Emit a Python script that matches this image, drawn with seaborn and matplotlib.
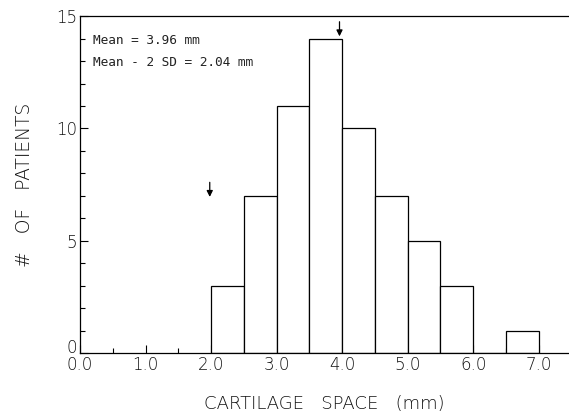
import numpy as np
import matplotlib
matplotlib.use("Agg")
import matplotlib.pyplot as plt
import matplotlib.transforms as mtransforms
import seaborn as sns
from matplotlib.ticker import MultipleLocator

# histogram data (bin width 0.5 mm)
bin_edges = [2.0, 2.5, 3.0, 3.5, 4.0, 4.5, 5.0, 5.5, 6.0, 6.5, 7.0]
bin_left = [2.0, 2.5, 3.0, 3.5, 4.0, 4.5, 5.0, 5.5, 6.0, 6.5]
counts = [3, 7, 11, 14, 10, 7, 5, 3, 0, 1]

mean_val = 3.96
mean_2sd = 2.04
x_ticks = [0, 1, 2, 3, 4, 5, 6, 7]
x_tick_labels = ["0.0", "1.0", "2.0", "3.0", "4.0", "5.0", "6.0", "7.0"]
y_ticks = [0, 5, 10, 15]

sns.set_style("ticks")
plt.rcParams['font.family'] = ['DejaVu Sans']

fig = plt.figure(figsize=(5.69, 4.19), dpi=100)
ax = fig.add_axes([0.1406, 0.1575, 0.858, 0.804])

sns.histplot(x=bin_left, weights=counts, bins=bin_edges, ax=ax,
             color="white", edgecolor="black", linewidth=0.9, alpha=1)

# arrows marking mean and mean - 2 SD
ax.annotate("", xy=(mean_val, 14.1), xytext=(mean_val, 14.75),
            arrowprops=dict(arrowstyle="-|>", color="black", lw=0.9,
                            mutation_scale=9, shrinkA=0, shrinkB=0))
ax.annotate("", xy=(mean_2sd - 0.06, 6.95), xytext=(mean_2sd - 0.06, 7.6),
            arrowprops=dict(arrowstyle="-|>", color="black", lw=0.9,
                            mutation_scale=9, shrinkA=0, shrinkB=0))

ax.text(0.2, 13.9, f"Mean = {mean_val:.2f} mm", fontsize=9.2,
        family="DejaVu Sans Mono", va="center", color="#222222")
ax.text(0.2, 12.95, f"Mean - 2 SD = {mean_2sd:.2f} mm", fontsize=9.2,
        family="DejaVu Sans Mono", va="center", color="#222222")

ax.set_xlim(0, 7.45)
ax.set_ylim(0, 15)
ax.set_xticks(x_ticks)
ax.set_xticklabels(x_tick_labels)
ax.set_yticks(y_ticks)
ax.xaxis.set_minor_locator(MultipleLocator(0.5))
ax.yaxis.set_minor_locator(MultipleLocator(1))
ax.tick_params(which="major", direction="in", length=6, width=0.8,
               labelsize=12, pad=2, colors="black")
ax.tick_params(which="minor", direction="in", length=3.5, width=0.8,
               colors="black")
for lab in ax.get_xticklabels() + ax.get_yticklabels():
    lab.set_color("#111111")
    lab.set_fontweight("light")
# the "0" on the y axis sits a little above its tick
zero_lab = ax.get_yticklabels()[0]
zero_lab.set_transform(zero_lab.get_transform() +
                       mtransforms.ScaledTranslation(0, 7 / 100, fig.dpi_scale_trans))

ax.spines["right"].set_visible(False)
for s in ["left", "bottom", "top"]:
    ax.spines[s].set_linewidth(0.9)
    ax.spines[s].set_color("black")

ax.set_xlabel("CARTILAGE   SPACE   (mm)", fontsize=13, labelpad=15,
              color="#111111", fontweight="light")
ax.set_ylabel("#   OF   PATIENTS", fontsize=13.5, labelpad=16,
              color="#111111", fontweight="light")

fig.savefig("out.png", dpi=100)
